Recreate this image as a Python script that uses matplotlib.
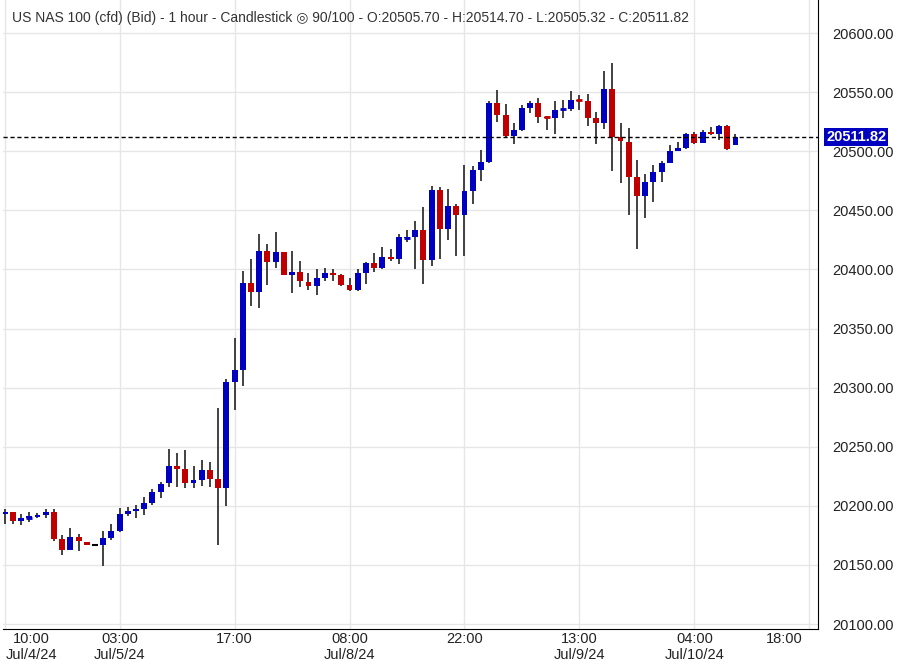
import matplotlib
matplotlib.use("Agg")
import matplotlib.pyplot as plt
import numpy as np

opens = [20193,20195,20187.5,20190,20190.5,20192.5,20195,20172,20163,20174,20169,20166.5,20167,20173,20179,20193,20196,20197.5,20202,20212,
         20219,20234,20231,20219,20222,20230,20222.7,20215,20305,20315,20388.5,20381,20416,20406.5,20414.7,20395.5,20398,20389,20386,20393,
         20397,20395,20387,20383,20397,20405.4,20401.5,20410.5,20409,20427,20427.5,20433,20408,20467,20434,20454,20446,20466,20484,20491,
         20541,20530.6,20513,20518,20536.6,20541,20529,20528,20535.5,20535.7,20543.3,20542.5,20528,20524,20552.6,20512,20508,20478,20462,20474,
         20482.4,20490,20500,20502.7,20514.5,20507,20516,20514.5,20521,20505.70]
highs = [20197,20195,20193,20195,20194,20197,20197,20175,20181,20176,20169,20166.5,20179,20185,20198,20199,20201,20207.5,20214,20220,
         20248,20245,20247,20234,20239,20237,20283,20307,20342,20398.6,20409,20430,20421.5,20431.6,20415,20416,20407,20397,20400,20401,
         20400,20396,20393,20400,20406.5,20414,20419,20417,20430,20433,20441,20453,20470.6,20470,20468,20455,20488,20487.5,20501,20542.5,
         20552,20540,20524,20539,20542.5,20545,20530,20542.5,20543,20551,20547.5,20548.4,20533,20568,20574.6,20524,20520,20492.6,20481,20488,
         20492,20505,20508,20515.4,20516,20518,20520.5,20522,20522,20514.70]
lows = [20185,20185,20184,20186,20190,20190,20170,20158,20163,20162,20167,20166.5,20149,20171,20178,20191,20190,20192.5,20201,20207,
        20216,20216,20215.5,20215.5,20217,20216,20167,20200,20281,20301.6,20369,20367.6,20387,20401.4,20395,20380,20385,20383,20378,20390,
        20390.5,20386,20382,20382,20388,20398,20400,20407,20405,20423.5,20400.6,20387.6,20403,20409,20425,20411,20411,20455,20475,20490,
        20524.7,20511,20506,20517,20532,20524,20518,20515,20528,20534,20535,20521,20506,20519,20483,20473,20446,20417,20443.5,20457,
        20474,20490,20500,20502,20506,20507,20513.7,20509.5,20501,20505.32]
closes = [20195,20187,20190,20191,20192,20195,20172,20163,20174,20170,20167,20166.5,20173,20179,20193,20196,20197.5,20202,20211.7,20218.5,
          20234,20231.5,20219,20222,20230,20223,20215.5,20305,20315,20388.5,20381,20416,20406.5,20414.7,20395.5,20398,20390,20386,20393,20397,
          20395.5,20387,20383,20397,20405.4,20401.5,20410.5,20409,20427.4,20427.5,20433,20408,20467,20434,20453.6,20446,20466,20484,20491,20541,
          20530.6,20513,20518,20536.6,20541,20529,20528,20535,20536,20543.3,20542.5,20528,20524,20552.6,20512,20508.6,20478,20462,20474,20482.4,
          20490,20500,20502.7,20514.5,20507,20516,20514.5,20521,20502,20511.82]

tick_pos = [3.3, 14, 28, 42, 56, 70, 84, 95]
tick_labels = ["10:00\nJul/4/24", "03:00\nJul/5/24", "17:00", "08:00\nJul/8/24", "22:00",
               "13:00\nJul/9/24", "04:00\nJul/10/24", "18:00"]
yticks = list(range(20100, 20601, 50))
last_price = 20511.82
title = "US NAS 100 (cfd) (Bid) - 1 hour - Candlestick \u25CE 90/100 - O:20505.70 - H:20514.70 - L:20505.32 - C:20511.82"

plt.rcParams['font.family'] = ['Liberation Sans', 'DejaVu Sans']
fig = plt.figure(figsize=(8.97, 6.61), dpi=100)
ax = fig.add_axes([3/897, 1 - 629/661, 815/897, 629/661])

x = np.arange(len(opens))
o = np.array(opens); c = np.array(closes); h = np.array(highs); l = np.array(lows)
ax.vlines(x, l, h, color="#333333", linewidth=1.3, zorder=2)
up = c > o; dn = c < o; eq = c == o
ax.bar(x[up], (c - o)[up], bottom=o[up], width=0.72, color="#0000C0", zorder=3)
ax.bar(x[dn], (c - o)[dn], bottom=o[dn], width=0.72, color="#C00000", zorder=3)
ax.hlines(o[eq], x[eq] - 0.36, x[eq] + 0.36, color="black", linewidth=1.5, zorder=3)
for i in np.where(np.abs(c - o) < 1.2)[0]:
    if not eq[i]:
        ax.hlines(o[i], i - 0.36, i + 0.36, color="#0000C0" if up[i] else "#C00000", linewidth=2, zorder=3)

ax.set_xlim(-0.2, 99.05)
ax.set_ylim(20095.8, 20628)
ax.set_yticks(yticks)
ax.set_yticklabels([f"{v:.2f}" for v in yticks])
ax.yaxis.tick_right()
ax.set_xticks(tick_pos)
ax.set_xticklabels(tick_labels)
ax.tick_params(axis='both', length=0, labelsize=10.5, colors="#222222")
ax.tick_params(axis='y', pad=10)
ax.tick_params(axis='x', pad=2)
for v in yticks:
    ax.axhline(v, color="#e6e6e6", linewidth=1, zorder=0)
for v in range(0, 99, 14):
    ax.axvline(v, color="#e6e6e6", linewidth=1, zorder=0)
for s in ["top", "left"]:
    ax.spines[s].set_visible(False)
ax.spines["right"].set_color("black")
ax.spines["bottom"].set_color("black")

ax.axhline(last_price, color="black", linestyle=(0, (3, 2)), linewidth=1, zorder=4)
ax.text(1.01, last_price, f"{last_price:.2f}", transform=ax.get_yaxis_transform(),
        va="center", ha="left", color="white", fontsize=10.5, fontweight="bold",
        bbox=dict(boxstyle="square,pad=0.15", facecolor="#0000C0", edgecolor="none"), zorder=5)

fig.text(12/897, 1 - 18/661, title, fontsize=10, color="#333333", va="center", ha="left",
         family=['Liberation Sans', 'DejaVu Sans'])
fig.savefig("out.png", dpi=100)
